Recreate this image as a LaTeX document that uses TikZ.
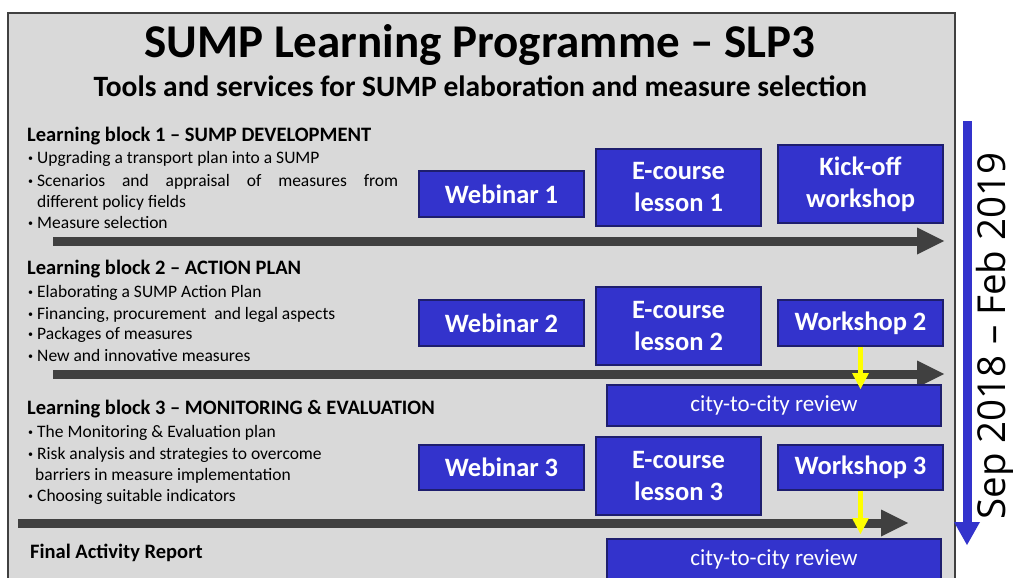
\documentclass[tikz,border=0pt]{standalone}
\usepackage{fontspec}
\setmainfont{Carlito}
\newfontfamily\datefont{Open Sans}
\usetikzlibrary{arrows.meta}
\definecolor{panelgray}{RGB}{217,217,217}
\definecolor{paneledge}{RGB}{64,64,64}
\definecolor{boxblue}{RGB}{51,51,204}
\definecolor{boxedge}{RGB}{30,30,110}
\definecolor{timegray}{RGB}{64,64,64}
\definecolor{hlyellow}{RGB}{255,255,0}
\newcommand\bul{\llap{\raisebox{1.5pt}{\fontsize{10}{10}\selectfont•}\hspace{4pt}}}
\begin{document}
\begin{tikzpicture}[x=1pt,y=-1pt,
 evbox/.style={draw=boxedge, line width=1.5pt, fill=boxblue, text=white, font=\bfseries\fontsize{26.5}{32}\selectfont, align=center, inner sep=0pt, minimum width=165pt},
 reviewbox/.style={draw=boxedge, line width=1.5pt, fill=boxblue, text=white, font=\fontsize{23}{26}\selectfont, inner sep=0pt, minimum width=334pt, minimum height=41pt},
 heading/.style={font=\bfseries\fontsize{20.5}{22}\selectfont, anchor=base west, inner sep=0pt},
 itemtext/.style={font=\fontsize{17.5}{20}\selectfont, anchor=base west, inner sep=0pt},
 timeline/.style={draw=timegray, line width=9pt, -{Triangle[length=27pt,width=27pt,line width=0pt]}},
 flow/.style={draw=hlyellow, line width=5pt, -{Triangle[length=16pt,width=17pt,line width=0pt]}},
 period/.style={draw=boxblue, line width=9pt, -{Triangle[length=23pt,width=26pt,line width=0pt]}}
]
\useasboundingbox (0,0) rectangle (1013,578);
\clip (0,0) rectangle (1013,578);
\fill[white] (0,0) rectangle (1013,578);
\draw[draw=paneledge, fill=panelgray, line width=1.5pt] (8,13) rectangle (955,600);

% titles
\node[font=\bfseries\fontsize{47}{50}\selectfont, anchor=base, inner sep=0pt] (title) at (480,58) {SUMP Learning Programme – SLP3};
\node[font=\bfseries\fontsize{29.5}{32}\selectfont, anchor=base, inner sep=0pt] (subtitle) at (480.5,97) {Tools and services for SUMP elaboration and measure selection};

% block 1
\node[heading] (lb1) at (27,141) {Learning block 1 – SUMP DEVELOPMENT};
\node[itemtext] (b1a) at (37,163) {\bul Upgrading a transport plan into a SUMP};
\node[itemtext] (b1b) at (37,186) {\bul\hbox to 361pt{Scenarios\hfill and\hfill appraisal\hfill of\hfill measures\hfill from}};
\node[itemtext] (b1c) at (37,207) {different policy fields};
\node[itemtext] (b1d) at (37,228) {\bul Measure selection};

% block 2
\node[heading] (lb2) at (27,274) {Learning block 2 – ACTION PLAN};
\node[itemtext] (b2a) at (37,297) {\bul Elaborating a SUMP Action Plan};
\node[itemtext] (b2b) at (37,319) {\bul Financing, procurement \ and legal aspects};
\node[itemtext] (b2c) at (37,339) {\bul Packages of measures};
\node[itemtext] (b2d) at (37,361) {\bul New and innovative measures};

% block 3
\node[heading] (lb3) at (27,414) {Learning block 3 – MONITORING \& EVALUATION};
\node[itemtext] (b3a) at (37,437) {\bul The Monitoring \& Evaluation plan};
\node[itemtext] (b3b) at (37,459) {\bul Risk analysis and strategies to overcome};
\node[itemtext] (b3c) at (35,480) {barriers in measure implementation};
\node[itemtext] (b3d) at (37,501) {\bul Choosing suitable indicators};

\node[heading] (far) at (30,558) {Final Activity Report};

% timelines
\coordinate (t1s) at (53,241); \coordinate (t1e) at (944,241);
\coordinate (t2s) at (53,374); \coordinate (t2e) at (944,374);
\coordinate (t3s) at (18,523); \coordinate (t3e) at (908,523);
\draw[timeline] (t1s) -- (t1e);
\draw[timeline] (t2s) -- (t2e);
\draw[timeline] (t3s) -- (t3e);

% boxes
\node[evbox, minimum height=46pt] (web1) at (501.5,194) {Webinar 1};
\node[evbox, minimum height=77pt] (ec1) at (678.5,187.5) {E-course\\lesson 1};
\node[evbox, minimum height=78pt] (ko) at (860.5,184) {Kick-off\\workshop};
\node[evbox, minimum height=46pt] (web2) at (501.5,323) {Webinar 2};
\node[evbox, minimum height=78pt] (ec2) at (678.5,326) {E-course\\lesson 2};
\node[evbox, minimum height=46pt] (ws2) at (860.5,323) {Workshop 2};
\node[reviewbox] (rev1) at (774,405.5) {city-to-city review};
\node[evbox, minimum height=45pt] (web3) at (501.5,467.5) {Webinar 3};
\node[evbox, minimum height=78pt] (ec3) at (678.5,476) {E-course\\lesson 3};
\node[evbox, minimum height=45pt] (ws3) at (860.5,467.5) {Workshop 3};
\node[reviewbox] (rev2) at (774,559.5) {city-to-city review};

% yellow arrows
\coordinate (y1e) at (860.5,389);
\coordinate (y2e) at (860.5,534);
\draw[flow] (ws2.south) -- (y1e);
\draw[flow] (ws3.south) -- (y2e);

% period arrow
\coordinate (ps) at (967,121); \coordinate (pe) at (967,545);
\draw[period] (ps) -- (pe);
\node[font=\datefont\fontsize{38.5}{40}\selectfont, rotate=90, anchor=base, inner sep=0pt] (dates) at (1005,336) {Sep 2018 – Feb 2019};
\end{tikzpicture}
\end{document}
